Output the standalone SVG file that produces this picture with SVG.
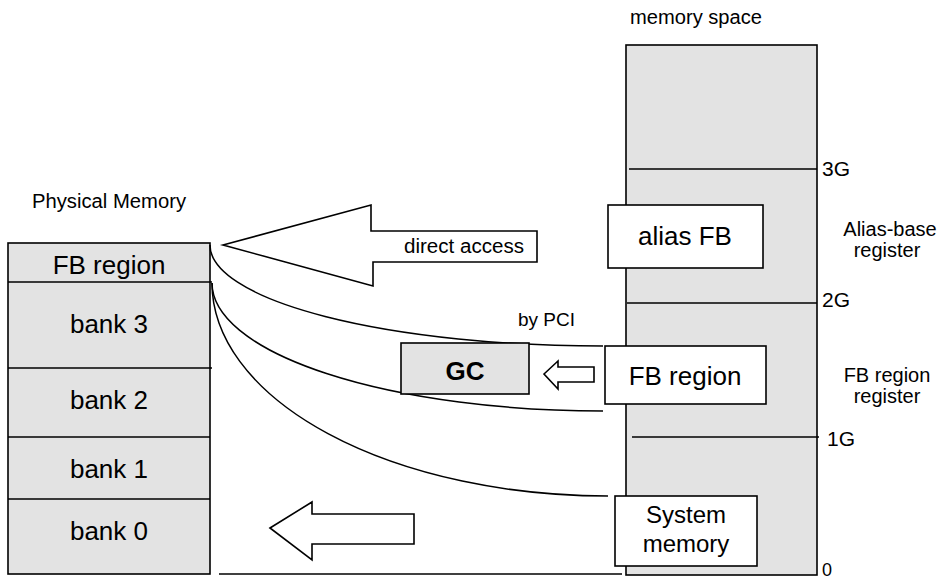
<svg xmlns="http://www.w3.org/2000/svg" width="941" height="581" viewBox="0 0 941 581">
<style>
text{font-family:"Liberation Sans",Arial,sans-serif;fill:#000}
.box{fill:#e3e3e3;stroke:#000;stroke-width:1.6}
.wbox{fill:#fff;stroke:#000;stroke-width:1.6}
.ln{fill:none;stroke:#000;stroke-width:1.5}
.arrow{fill:#fff;stroke:#000;stroke-width:1.6;stroke-linejoin:miter}
.big{font-size:26px}
.sm{font-size:20px}
.mid{text-anchor:middle}
</style>
<rect width="941" height="581" fill="#fff"/>

<g id="physical-memory">
  <text class="sm" x="32" y="208" textLength="154" lengthAdjust="spacingAndGlyphs">Physical Memory</text>
  <rect class="box" x="8" y="243" width="202" height="331"/>
  <line class="ln" x1="8" y1="282" x2="212" y2="282"/>
  <line class="ln" x1="8" y1="368" x2="212" y2="368"/>
  <line class="ln" x1="8" y1="437" x2="210" y2="437"/>
  <line class="ln" x1="8" y1="499" x2="210" y2="499"/>
  <text class="big mid" x="109" y="274">FB region</text>
  <text class="big mid" x="109" y="333">bank 3</text>
  <text class="big mid" x="109" y="409">bank 2</text>
  <text class="big mid" x="109" y="478">bank 1</text>
  <text class="big mid" x="109" y="540">bank 0</text>
</g>

<g id="memory-space">
  <text class="sm" x="630" y="24" textLength="132" lengthAdjust="spacingAndGlyphs">memory space</text>
  <rect class="box" x="626" y="45" width="191" height="530"/>
  <line class="ln" x1="629" y1="169" x2="817" y2="169"/>
  <line class="ln" x1="627" y1="303" x2="817" y2="303"/>
  <line class="ln" x1="632" y1="437" x2="819" y2="437"/>
  <text class="sm" x="822" y="176" style="font-size:21px">3G</text>
  <text class="sm" x="822" y="307" style="font-size:21px">2G</text>
  <text class="sm" x="827" y="446" style="font-size:21px">1G</text>
  <text class="sm" x="822" y="576" style="font-size:18px">0</text>
</g>

<g id="alias-fb">
  <rect class="wbox" x="608" y="205" width="155" height="63"/>
  <text class="big mid" x="685" y="245">alias FB</text>
</g>

<g id="alias-base-label">
  <text class="sm mid" x="890" y="236">Alias-base</text>
  <text class="sm mid" x="887" y="257">register</text>
</g>

<g id="connectors">
  <path class="ln" d="M210,245 A393,101 0 0 0 603,346"/>
  <path class="ln" d="M212,283 A391,128 0 0 0 603,411"/>
  <path class="ln" d="M212,283 A396,213 0 0 0 608,496"/>
  <line class="ln" x1="219" y1="574" x2="622" y2="574"/>
</g>

<g id="direct-access-arrow">
  <polygon class="arrow" points="223,245 371,205 371,231 537,231 537,262 373,262 373,286"/>
  <text class="sm" x="404" y="253" textLength="120" lengthAdjust="spacingAndGlyphs">direct access</text>
</g>

<g id="by-pci-label">
  <text class="sm" x="518" y="326" style="font-size:19px">by PCI</text>
</g>

<g id="gc">
  <rect class="box" x="401" y="343" width="128" height="51"/>
  <text class="big mid" x="465" y="380" style="font-weight:bold">GC</text>
</g>

<g id="pci-arrow">
  <polygon class="arrow" points="544,374 558,361 558,367 594,367 594,382 558,382 558,389"/>
</g>

<g id="fb-region">
  <rect class="wbox" x="605" y="346" width="161" height="58"/>
  <text class="big mid" x="685" y="385">FB region</text>
</g>

<g id="fb-region-register-label">
  <text class="sm mid" x="887" y="382">FB region</text>
  <text class="sm mid" x="887" y="403">register</text>
</g>

<g id="system-memory">
  <rect class="wbox" x="615" y="496" width="142" height="70"/>
  <text class="mid" x="686" y="523" style="font-size:24px">System</text>
  <text class="mid" x="686" y="552" style="font-size:24px">memory</text>
</g>

<g id="system-arrow">
  <polygon class="arrow" points="270,528 312,502 312,514 414,514 414,544 312,544 312,560"/>
</g>
</svg>
